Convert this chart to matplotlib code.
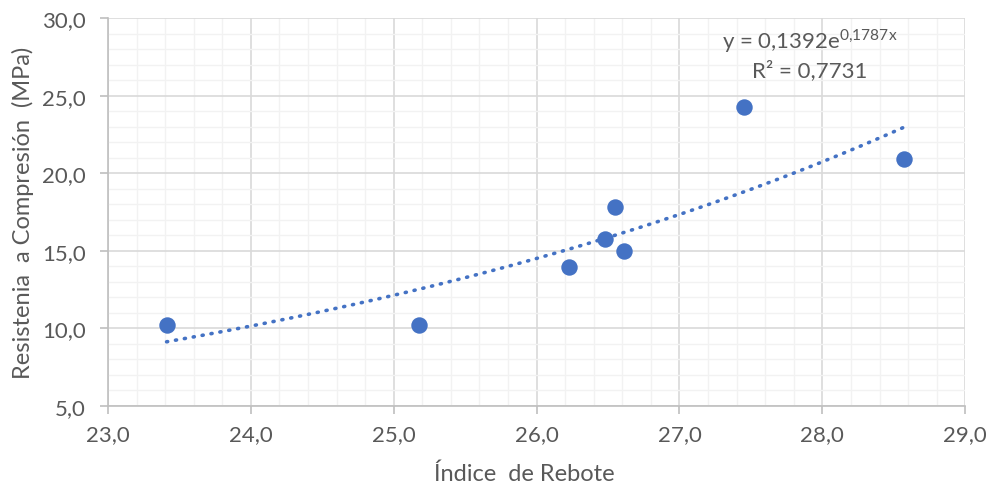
import numpy as np
import matplotlib.pyplot as plt
from matplotlib.ticker import MultipleLocator, FuncFormatter

plt.rcParams['font.family'] = ['Lato', 'DejaVu Sans']
plt.rcParams['mathtext.fontset'] = 'custom'
plt.rcParams['mathtext.rm'] = 'Lato'

# rebound index vs compressive strength
indice = [23.41, 25.18, 26.23, 26.48, 26.55, 26.61, 27.45, 28.57]
resistencia = [10.22, 10.22, 13.96, 15.76, 17.82, 14.99, 24.27, 20.92]

# exponential trend y = a*e^(b*x)
coef_a = 0.1392
coef_b = 0.1787
r2 = 0.7731

azul = '#4472C4'
gris_txt = '#595959'


def coma(v, nd=1):
    return f'{v:.{nd}f}'.replace('.', ',')


fig = plt.figure(figsize=(9.91, 4.89), dpi=100)
ax = fig.add_axes([0.109, 0.168, 0.865, 0.793])

xs = np.linspace(min(indice), max(indice), 200)
ax.plot(xs, coef_a * np.exp(coef_b * xs), color=azul, lw=2.6,
        linestyle=(0, (0.3, 2.2)), dash_capstyle='round', zorder=2)
ax.scatter(indice, resistencia, s=140, color=azul, zorder=3, linewidths=0)

ax.set_xlim(23, 29)
ax.set_ylim(5, 30)
ax.xaxis.set_major_locator(MultipleLocator(1))
ax.xaxis.set_minor_locator(MultipleLocator(0.2))
ax.yaxis.set_major_locator(MultipleLocator(5))
ax.yaxis.set_minor_locator(MultipleLocator(1))
fmt = FuncFormatter(lambda v, p: coma(v))
ax.xaxis.set_major_formatter(fmt)
ax.yaxis.set_major_formatter(fmt)

ax.grid(which='major', color='#D9D9D9', lw=1.2, zorder=0)
ax.grid(which='minor', color='#F2F2F2', lw=1.0, zorder=0)
ax.set_axisbelow(True)

for s in ['top', 'right']:
    ax.spines[s].set_visible(False)
for s in ['left', 'bottom']:
    ax.spines[s].set_color('#BFBFBF')
    ax.spines[s].set_linewidth(1.2)

ax.tick_params(which='major', length=6, width=1.2, color='#BFBFBF',
               labelsize=16, labelcolor=gris_txt)
ax.tick_params(axis='y', pad=10)
ax.tick_params(axis='x', pad=7)
ax.tick_params(which='minor', length=0)

ax.set_xlabel('Índice  de Rebote', fontsize=17, color=gris_txt)
ax.set_ylabel('Resistenia  a Compresión  (MPa)', fontsize=17, color=gris_txt)
ax.xaxis.set_label_coords(0.486, -0.145)
ax.yaxis.set_label_coords(-0.086, 0.5)

exp_txt = coma(coef_b, 4).replace(',', '{,}')
ax.text(27.91, 28.6, f'y = {coma(coef_a, 4)}e' + r'$^{\mathregular{' + exp_txt + 'x}}$',
        fontsize=16, color=gris_txt, ha='center', va='center')
ax.text(27.91, 26.7, f'R² = {coma(r2, 4)}', fontsize=16,
        color=gris_txt, ha='center', va='center')

fig.savefig('out.png', dpi=100)
